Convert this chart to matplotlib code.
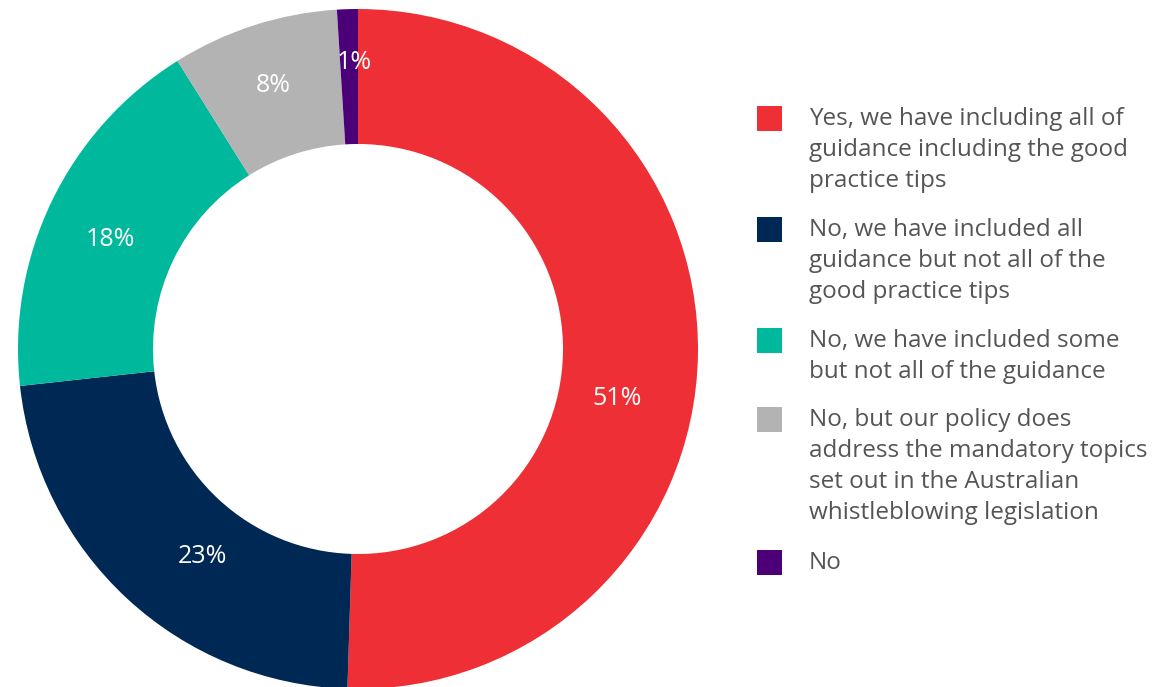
import matplotlib
matplotlib.use("Agg")
import matplotlib.pyplot as plt
import numpy as np
from matplotlib.patches import Rectangle

plt.rcParams["font.family"] = ["Open Sans", "DejaVu Sans"]

# data
categories = [
    "Yes, we have including all of\nguidance including the good\npractice tips",
    "No, we have included all\nguidance but not all of the\ngood practice tips",
    "No, we have included some\nbut not all of the guidance",
    "No, but our policy does\naddress the mandatory topics\nset out in the Australian\nwhistleblowing legislation",
    "No",
]
values = [51, 23, 18, 8, 1]
pct_labels = ["51%", "23%", "18%", "8%", "1%"]
colors = ["#EE3036", "#002855", "#00B89C", "#B3B3B3", "#4B0077"]

# label placement tweaks (degrees off the wedge middle, radius fraction)
label_shift = [-10, 6, 2, 0, -1]
label_dist = [0.776, 0.762, 0.797, 0.815, 0.844]

W, H = 1158, 687
fig = plt.figure(figsize=(W / 100, H / 100), dpi=100)
ax = fig.add_axes([0, 0, 1, 1])

R = 340
cx, cy = 358, H - 349
wedges, texts = ax.pie(
    values, colors=colors, labels=pct_labels, startangle=90, counterclock=False,
    center=(cx, cy), radius=R, labeldistance=0.80,
    wedgeprops=dict(width=135, linewidth=0),
    textprops=dict(color="white", fontsize=18, ha="center", va="center"),
    frame=True,
)
for w, t, da, d in zip(wedges, texts, label_shift, label_dist):
    ang = np.deg2rad((w.theta1 + w.theta2) / 2 + da)
    t.set_position((cx + d * R * np.cos(ang), cy + d * R * np.sin(ang)))

ax.set_xlim(0, W)
ax.set_ylim(0, H)
ax.set_aspect("equal")
ax.axis("off")

# legend
line_h = 32
gap = 15
y = 118
for lab, col in zip(categories, colors):
    n = lab.count("\n") + 1
    ax.add_patch(Rectangle((757, H - y - 12.5), 25, 25, color=col, linewidth=0))
    ax.text(809, H - y + line_h / 2 - 5, lab, fontsize=17.5, color="#555555",
            ha="left", va="top", linespacing=1.38)
    y += n * line_h + gap

fig.savefig("out.png", dpi=100)
